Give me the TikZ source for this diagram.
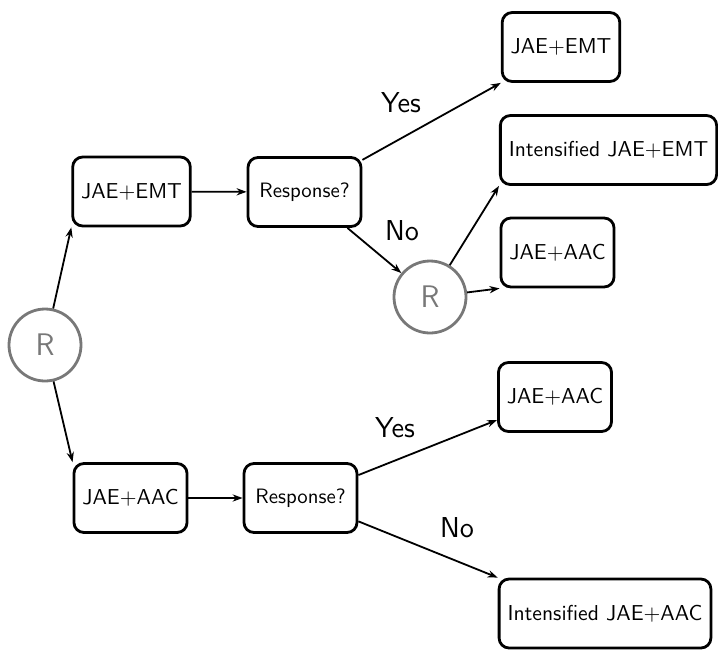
\documentclass[tikz,border=0pt]{standalone}
\usepackage{tikz}
\usetikzlibrary{arrows.meta}
\definecolor{rgray}{RGB}{120,120,120}
\newcommand{\Arm}[1]{{\fontsize{10.8}{13}\selectfont #1}}

\begin{document}
\begin{tikzpicture}[x=0.5pt,y=-0.5pt,
    font=\sffamily,
    box/.style={draw, line width=1.4pt, rounded corners=5pt, minimum height=34.5pt, inner xsep=4.2pt},
    rand/.style={draw=rgray, text=rgray, circle, line width=1.4pt, minimum size=36pt, font=\sffamily\fontsize{15.6}{18}\selectfont},
    lab/.style={font=\sffamily\fontsize{14.4}{17}\selectfont},
    arr/.style={-{Stealth[length=5pt,width=3.6pt]}, line width=0.9pt}]

    \useasboundingbox (0,0) rectangle (718,650);

    \draw(45,345) node[rand] (r1) {R};
    \draw(131.5,191.5) node[box] (emt) {\Arm{JAE+EMT}};
    \draw(130.5,498) node[box] (aac) {\Arm{JAE+AAC}};

    \draw(304.5,192) node[box, minimum width=56.5pt] (resp1) {\fontsize{10.4}{13}\selectfont Response?};
    \draw(300.5,498) node[box, minimum width=56.5pt] (resp2) {\fontsize{10.4}{13}\selectfont Response?};

    \draw(430,297) node[rand] (r2) {R};

    \draw(561,47) node[box] (emt2) {\Arm{JAE+EMT}};
    \draw(608.5,150) node[box] (intemt) {\Arm{Intensified JAE+EMT}};
    \draw(557.5,252.5) node[box] (aac2) {\Arm{JAE+AAC}};
    \draw(555,397) node[box] (aac3) {\Arm{JAE+AAC}};
    \draw(605,613.5) node[box] (intaac) {\Arm{Intensified JAE+AAC}};

    \draw(401,103) node[lab] (yes1) {Yes};
    \draw(402,231) node[lab] (no1) {No};
    \draw(395,428) node[lab] (yes2) {Yes};
    \draw(457,528) node[lab] (no2) {No};

    \draw[arr] (r1) to (emt.south west);
    \draw[arr] (r1) to (aac.north west);
    \draw[arr] (emt) to (resp1);
    \draw[arr] (aac) to (resp2);
    \draw[arr] (resp1) to (emt2.south west);
    \draw[arr] (resp1) to (r2);
    \draw[arr] (r2) to (intemt.south west);
    \draw[arr] (r2) to (aac2.south west);
    \draw[arr] (resp2) to (aac3);
    \draw[arr] (resp2) to (intaac.north west);

\end{tikzpicture}
\end{document}
